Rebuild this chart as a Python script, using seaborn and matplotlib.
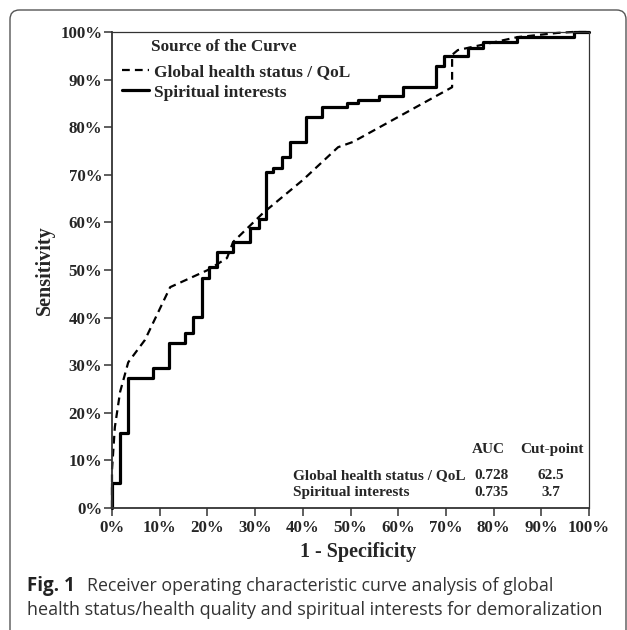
import numpy as np
import pandas as pd
import matplotlib
matplotlib.use("Agg")
import matplotlib.pyplot as plt
import seaborn as sns
from matplotlib.patches import FancyBboxPatch

# ---------------- data ----------------
series_names = ["Global health status / QoL", "Spiritual interests"]
legend_title = "Source of the Curve"

# Global health status / QoL (dashed ROC curve), 1-specificity vs sensitivity in %
global_fpr = [0, 0, 0.6, 1.7, 3.4, 6.9, 12.2, 20.1, 24.1, 25.4, 31.7, 40.0,
              47.4, 50.5, 71.3, 71.3, 72.5, 84.9, 93.3, 96.6, 100]
global_tpr = [0, 8.0, 17.0, 24.4, 30.6, 35.3, 46.4, 50.0, 52.5, 55.9, 62.0, 68.9,
              75.8, 76.9, 88.4, 95.2, 96.2, 98.9, 99.8, 100, 100]

# Spiritual interests (solid, stepped ROC curve)
spirit_fpr = [0, 1.7, 3.4, 8.6, 11.9, 15.3, 17.0, 18.9, 20.3, 22.0, 25.4, 28.9,
              30.8, 32.3, 33.8, 35.6, 37.3, 40.7, 44.0, 49.3, 51.5, 56.0, 61.0,
              67.9, 69.6, 74.6, 77.8, 84.9, 96.9, 100]
spirit_tpr = [0, 5.3, 15.8, 27.3, 29.4, 34.7, 36.8, 40.1, 48.3, 50.6, 53.8, 55.9,
              58.8, 60.8, 70.6, 71.4, 73.7, 76.9, 82.1, 84.2, 85.0, 85.7, 86.5,
              88.5, 92.9, 95.0, 96.6, 97.9, 98.9, 100]

auc_values = ["0.728", "0.735"]
cut_points = ["62.5", "3.7"]

tick_values = list(range(0, 101, 10))
tick_labels = [f"{v}%" for v in tick_values]

# ---------------- style ----------------
sns.set_style("ticks")
plt.rcParams["font.family"] = ["Liberation Serif", "DejaVu Serif"]
plt.rcParams["font.weight"] = "bold"
plt.rcParams["axes.labelweight"] = "bold"

fig = plt.figure(figsize=(6.27, 6.30), dpi=100)
fig.patch.set_facecolor("white")

ax = fig.add_axes([112 / 627, 1 - 508 / 630, 477 / 627, 476 / 630])

sns.lineplot(x=global_fpr, y=global_tpr, ax=ax, color="black", lw=1.6,
             linestyle=(0, (3.5, 2.3)), estimator=None, sort=False,
             label=series_names[0], clip_on=False)
sns.lineplot(x=spirit_fpr, y=spirit_tpr, ax=ax, color="black", lw=2.3,
             drawstyle="steps-pre", estimator=None, sort=False,
             label=series_names[1], clip_on=False)

ax.set_xlim(0, 100)
ax.set_ylim(0, 100)
ax.set_xticks(tick_values)
ax.set_yticks(tick_values)
ax.set_xticklabels(tick_labels)
ax.set_yticklabels(tick_labels)

for side in ["left", "bottom"]:
    ax.spines[side].set_linewidth(1.3)
    ax.spines[side].set_color("#333333")
for side in ["top", "right"]:
    ax.spines[side].set_linewidth(0.9)
    ax.spines[side].set_color("#333333")

ax.tick_params(axis="both", direction="out", length=6, width=1.1,
               color="#333333", labelsize=12.2)
ax.tick_params(axis="x", pad=3)
ax.tick_params(axis="y", pad=1)

ax.set_xlabel("1 - Specificity", fontsize=14.5, fontweight="bold")
ax.set_ylabel("Sensitivity", fontsize=14.5, fontweight="bold")
ax.xaxis.set_label_coords(0.515, -0.072)
ax.yaxis.set_label_coords(-0.12, 0.5)

# legend (title drawn as separate text to match its left offset)
handles, labels = ax.get_legend_handles_labels()
leg = ax.legend(handles, labels, loc="upper left",
                bbox_to_anchor=(0.021, 0.933), borderaxespad=0, borderpad=0,
                frameon=False, prop=dict(weight="bold", size=12.5),
                handlelength=1.55, handletextpad=0.3, labelspacing=0.25)
ax.text((151 - 112) / 477, (508 - 47) / 476, legend_title, transform=ax.transAxes,
        ha="left", va="center", fontsize=12.3, fontweight="bold")

# AUC table
tfs = 11.0
ax.text(0.79, 0.122, "AUC", transform=ax.transAxes, ha="center", va="center",
        fontsize=tfs, fontweight="bold")
ax.text(0.922, 0.122, "Cut-point", transform=ax.transAxes, ha="center",
        va="center", fontsize=tfs, fontweight="bold")
for i, (name, auc, cp) in enumerate(zip(series_names, auc_values, cut_points)):
    yy = 0.069 - i * 0.036
    ax.text(0.379, yy, name, transform=ax.transAxes, ha="left", va="center",
            fontsize=tfs, fontweight="bold")
    ax.text(0.795, yy, auc, transform=ax.transAxes, ha="center", va="center",
            fontsize=tfs, fontweight="bold")
    ax.text(0.920, yy, cp, transform=ax.transAxes, ha="center", va="center",
            fontsize=tfs, fontweight="bold")

# Caption
cap_font = ["Open Sans", "DejaVu Sans"]
fig.text(27 / 627, 1 - 586 / 630, "Fig. 1", family=cap_font, fontweight="bold",
         fontsize=13.5, ha="left", va="center", color="#222222")
fig.text(87 / 627, 1 - 586 / 630,
         "Receiver operating characteristic curve analysis of global",
         family=cap_font, fontweight="normal", fontsize=12.8, ha="left",
         va="center", color="#333333")
fig.text(27 / 627, 1 - 610 / 630,
         "health status/health quality and spiritual interests for demoralization",
         family=cap_font, fontweight="normal", fontsize=13, ha="left",
         va="center", color="#333333")

# Rounded frame around figure panel
frame = FancyBboxPatch((10 / 627, -0.05), (616 / 627), 1 - 10 / 630 + 0.05,
                       boxstyle="round,pad=0,rounding_size=0.015",
                       transform=fig.transFigure, fill=False,
                       edgecolor="#555555", lw=1.0, clip_on=False)
fig.patches.append(frame)

fig.savefig("out.png", dpi=100, facecolor="white")
